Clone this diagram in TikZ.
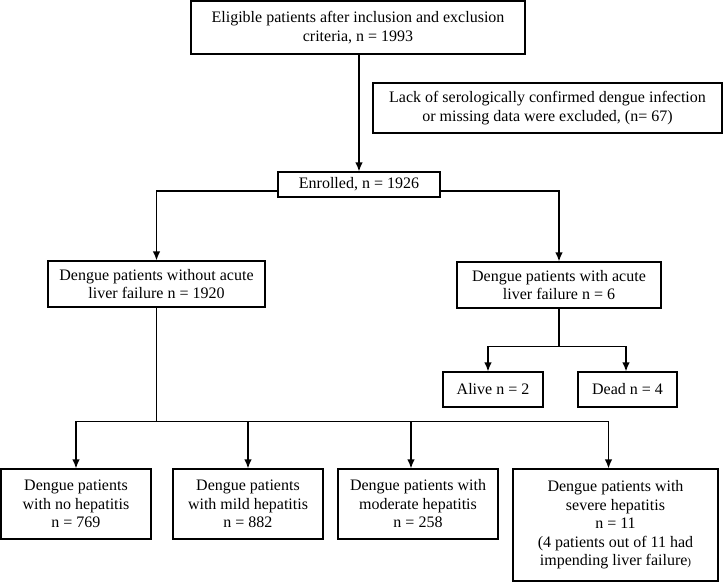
\documentclass[tikz,border=0pt]{standalone}
\usepackage{fontspec}
\setmainfont{Liberation Serif}
\usetikzlibrary{arrows.meta,positioning,calc}

\begin{document}
\begin{tikzpicture}[x=1pt, y=-1pt,
		every node/.style={align=center, font=\fontsize{16}{18.5}\selectfont},
		stepbox/.style={draw, line width=1.1pt, inner sep=0pt},
		arr/.style={line width=1.4pt, -{Latex[length=9pt,width=7.5pt]}},
		link/.style={line width=1.4pt}
	]
	\useasboundingbox (0,0) rectangle (725,582);

	% Screening
	\node[stepbox, minimum width=334pt, minimum height=53pt] (elig) at (358,27.5)
		{Eligible patients after inclusion and exclusion\\criteria, n = 1993};
	\node[stepbox, minimum width=349pt, minimum height=50pt] (excl) at (547.5,108)
		{Lack of serologically confirmed dengue infection\\or missing data were excluded, (n= 67)};
	\node[stepbox, minimum width=162pt, minimum height=25pt] (enrol) at (359,184.5)
		{Enrolled, n = 1926};

	% Liver failure
	\node[stepbox, minimum width=217pt, minimum height=46pt] (nalf) at (156.5,284)
		{Dengue patients without acute\\liver failure n = 1920};
	\node[stepbox, minimum width=204pt, minimum height=46pt] (alf) at (559,285)
		{Dengue patients with acute\\liver failure n = 6};
	\node[stepbox, minimum width=100pt, minimum height=35pt] (alive) at (493,389.5)
		{Alive n = 2};
	\node[stepbox, minimum width=99pt, minimum height=35pt] (dead) at (627.5,389.5)
		{Dead n = 4};

	% Hepatitis grades
	\node[stepbox, minimum width=150pt, minimum height=70pt] (nohep) at (76,504)
		{Dengue patients\\with no hepatitis\\n = 769};
	\node[stepbox, minimum width=150pt, minimum height=70pt] (mildhep) at (248,504)
		{Dengue patients\\with mild hepatitis\\n = 882};
	\node[stepbox, minimum width=160pt, minimum height=70pt] (modhep) at (418,504)
		{Dengue patients with\\moderate hepatitis\\n = 258};
	\node[stepbox, minimum width=205pt, minimum height=112pt] (sevhep) at (615.5,525)
		{Dengue patients with\\severe hepatitis\\n = 11\\(4 patients out of 11 had\\impending liver failure{\fontsize{11}{11}\selectfont)}};

	% Connectors
	\draw[arr] (elig.south -| enrol.north) -- (enrol.north);
	\draw[arr] ([yshift=-6.5pt]enrol.west) -| (nalf.north);
	\draw[arr] ([yshift=-6.5pt]enrol.east) -| (alf.north);

	\coordinate (ajoin) at ($(alf.south)+(0,38)$);
	\draw[link] (alf.south) -- (ajoin);
	\draw[arr] (ajoin) -| ([xshift=-5pt]alive.north);
	\draw[arr] (ajoin) -| ([xshift=-1.5pt]dead.north);

	\coordinate (hjoin) at ($(nalf.south)+(0,114)$);
	\draw[link] (nalf.south) -- (hjoin);
	\foreach \n/\s in {nohep/0, mildhep/0, modhep/-7, sevhep/-7}
		\draw[arr] (hjoin) -| ([xshift=\s pt]\n.north);
\end{tikzpicture}
\end{document}
